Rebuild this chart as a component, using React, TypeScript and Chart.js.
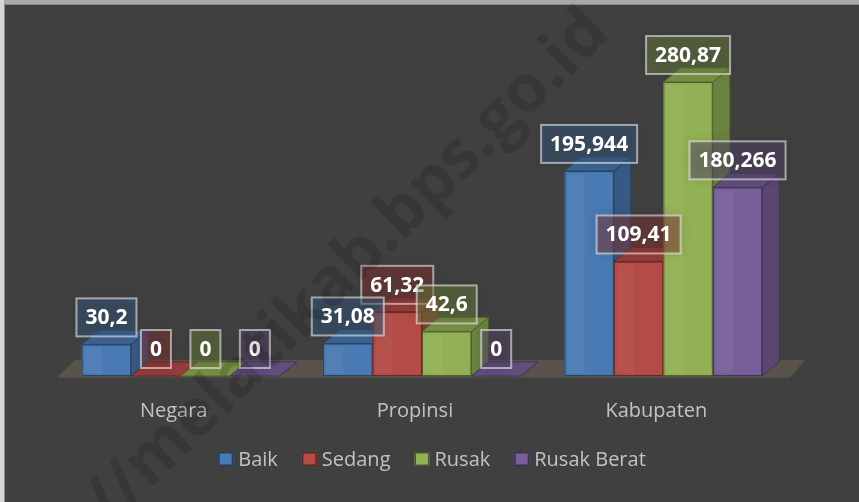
import React, { useEffect, useRef } from 'react';
import { Chart, registerables } from 'chart.js';

Chart.register(...registerables);

// ---- data ----
const categories = ['Negara', 'Propinsi', 'Kabupaten'];
const seriesNames = ['Baik', 'Sedang', 'Rusak', 'Rusak Berat'];
const baik = [30.2, 31.08, 195.944];
const sedang = [0, 61.32, 109.41];
const rusak = [0, 42.6, 280.87];
const rusakBerat = [0, 0, 180.266];
const yMax = 300;

// ---- styles ----
const seriesColors = ['#4a7ab3', '#b44b47', '#92b155', '#785f99'];
const BG = '#404040';
const FLOOR = '#58544b';
const DX = 17;
const DY = -14;
const TEXT_GREY = '#c2c2c2';

function rgb(hex: string) {
  const n = parseInt(hex.slice(1), 16);
  return [(n >> 16) & 255, (n >> 8) & 255, n & 255];
}
function shade(hex: string, f: number, a = 1) {
  const [r, g, b] = rgb(hex);
  return `rgba(${Math.round(r * f)},${Math.round(g * f)},${Math.round(b * f)},${a})`;
}
function fmt(v: number) {
  return String(v).replace('.', ',');
}

const bar3dPlugin = {
  id: 'bar3d',
  beforeDraw(chart: any) {
    const ctx = chart.ctx;
    const W = chart.width;
    const H = chart.height;
    ctx.save();
    ctx.fillStyle = BG;
    ctx.fillRect(0, 0, W, H);
    ctx.fillStyle = '#a8a8a8';
    ctx.fillRect(0, 0, W, 4);
    ctx.fillStyle = '#d6d6d6';
    ctx.fillRect(0, 0, 4, H);
    ctx.fillStyle = '#8a8a8a';
    ctx.fillRect(4, 4, W, 1);
    ctx.fillRect(4, 4, 1, H);
    ctx.restore();
  },
  beforeDatasetsDraw(chart: any) {
    const ctx = chart.ctx;
    const area = chart.chartArea;
    const zeroY = chart.scales.y.getPixelForValue(0);
    ctx.save();
    ctx.fillStyle = FLOOR;
    ctx.beginPath();
    ctx.moveTo(area.left - 3, zeroY + 1.5);
    ctx.lineTo(area.right + 6, zeroY + 1.5);
    ctx.lineTo(area.right + 21, zeroY - 16);
    ctx.lineTo(area.left + 15, zeroY - 16);
    ctx.closePath();
    ctx.fill();
    ctx.restore();
  },
  afterDatasetsDraw(chart: any) {
    const ctx = chart.ctx;
    const nDs = chart.data.datasets.length;
    const labels: any[] = [];
    ctx.save();
    // bars, category-major so right neighbours cover side faces
    for (let c = 0; c < categories.length; c++) {
      for (let d = 0; d < nDs; d++) {
        const el = chart.getDatasetMeta(d).data[c];
        const col = seriesColors[d];
        const w = el.width;
        const L = el.x - w / 2;
        const R = el.x + w / 2;
        const T = el.y;
        const B = el.base;
        const edge = shade(col, 0.55);
        ctx.lineWidth = 1;
        ctx.strokeStyle = edge;
        // front
        ctx.fillStyle = col;
        ctx.fillRect(L, T, w, B - T);
        if (B - T > 0) ctx.strokeRect(L + 0.5, T + 0.5, w - 1, B - T - 1);
        if (B - T > 6) {
          ctx.fillStyle = 'rgba(255,255,255,0.04)';
          ctx.fillRect(L + 3, T + 3, w * 0.35, B - T - 6);
        }
        // side
        ctx.fillStyle = shade(col, 0.74);
        ctx.beginPath();
        ctx.moveTo(R, T);
        ctx.lineTo(R + DX, T + DY);
        ctx.lineTo(R + DX, B + DY);
        ctx.lineTo(R, B);
        ctx.closePath();
        ctx.fill();
        ctx.stroke();
        // top
        ctx.fillStyle = shade(col, 0.82);
        ctx.beginPath();
        ctx.moveTo(L, T);
        ctx.lineTo(L + DX, T + DY);
        ctx.lineTo(R + DX, T + DY);
        ctx.lineTo(R, T);
        ctx.closePath();
        ctx.fill();
        ctx.stroke();
        labels.push({ x: el.x, top: T, text: fmt(chart.data.datasets[d].data[c]), col });
      }
    }
    // data labels, highest first so lower boxes sit on top
    labels.sort((a, b) => a.top - b.top);
    ctx.font = 'bold 21px "Open Sans"';
    ctx.textAlign = 'center';
    ctx.textBaseline = 'middle';
    for (const lb of labels) {
      const tw = ctx.measureText(lb.text).width;
      const bw = tw + 18;
      const bh = 38;
      const bx = lb.x - bw / 2;
      const by = lb.top - 8 - bh;
      ctx.save();
      ctx.shadowColor = 'rgba(0,0,0,0.55)';
      ctx.shadowBlur = 12;
      ctx.fillStyle = 'rgba(0,0,0,0.22)';
      ctx.fillRect(bx, by, bw, bh);
      ctx.restore();
      const [r, g, b] = rgb(lb.col);
      ctx.fillStyle = `rgba(${r},${g},${b},0.35)`;
      ctx.fillRect(bx, by, bw, bh);
      ctx.strokeStyle = 'rgba(235,235,235,0.6)';
      ctx.lineWidth = 2;
      ctx.strokeRect(bx, by, bw, bh);
      ctx.fillStyle = '#ffffff';
      ctx.fillText(lb.text, lb.x, by + bh / 2 + 1);
    }
    // category labels
    ctx.font = '20px "Open Sans"';
    ctx.fillStyle = TEXT_GREY;
    ctx.textBaseline = 'alphabetic';
    ctx.textAlign = 'center';
    const xs = chart.scales.x;
    categories.forEach((cat, i) => {
      ctx.fillText(cat, xs.getPixelForValue(i) - 7, 417);
    });
    // legend
    ctx.font = '20px "Open Sans"';
    const names = chart.data.datasets.map((ds: any) => ds.label);
    const widths = names.map((n: string) => 15 + 5 + ctx.measureText(n).width);
    const total = widths.reduce((a: number, b: number) => a + b, 0) + 24 * (names.length - 1);
    let lx = 432 - total / 2;
    ctx.textAlign = 'left';
    names.forEach((n: string, i: number) => {
      const col = seriesColors[i];
      ctx.fillStyle = col;
      ctx.fillRect(lx, 452, 15, 14);
      ctx.strokeStyle = shade(col, 0.5);
      ctx.lineWidth = 1.5;
      ctx.strokeRect(lx + 0.75, 452.75, 13.5, 12.5);
      ctx.fillStyle = TEXT_GREY;
      ctx.fillText(n, lx + 20, 466);
      lx += widths[i] + 24;
    });
    // watermark
    ctx.save();
    ctx.translate(348, 268);
    ctx.rotate((-44.5 * Math.PI) / 180);
    ctx.font = 'bold 66px "Open Sans"';
    ctx.fillStyle = 'rgba(0,0,0,0.14)';
    ctx.textAlign = 'center';
    ctx.textBaseline = 'middle';
    ctx.fillText('//melatikab.bps.go.id', 0, 0);
    ctx.restore();
    ctx.restore();
  },
};

export default function App() {
  const ref = useRef<HTMLCanvasElement | null>(null);
  useEffect(() => {
    if (!ref.current) return;
    const seriesData = [baik, sedang, rusak, rusakBerat];
    const chart = new Chart(ref.current, {
      type: 'bar',
      data: {
        labels: categories,
        datasets: seriesNames.map((name, i) => ({
          label: name,
          data: seriesData[i],
          backgroundColor: seriesColors[i],
          borderWidth: 0,
          categoryPercentage: 0.82,
          barPercentage: 1.0,
        })),
      },
      options: {
        animation: false,
        responsive: false,
        devicePixelRatio: 1,
        layout: { padding: { left: 60, right: 75, top: 62, bottom: 126 } },
        plugins: { legend: { display: false }, tooltip: { enabled: false } },
        scales: {
          x: { display: false },
          y: { display: false, min: 0, max: yMax },
        },
      },
      plugins: [bar3dPlugin],
    });
    return () => chart.destroy();
  }, []);
  return (
    <div style={{ position: 'fixed', left: 0, top: 0, width: 859, height: 502 }}>
      <canvas ref={ref} width={859} height={502} style={{ display: 'block' }} />
    </div>
  );
}
